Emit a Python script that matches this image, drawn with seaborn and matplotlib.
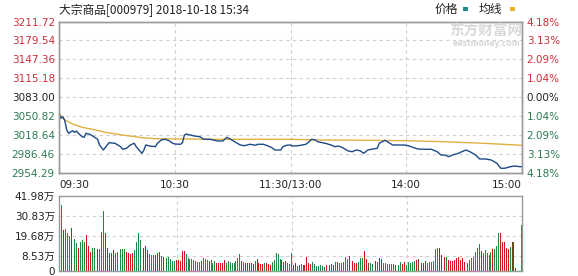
import matplotlib
matplotlib.use("Agg")
import matplotlib.pyplot as plt
import matplotlib.patches as mpatches
import seaborn as sns

# ---------------- data ----------------
title_text = "大宗商品[000979] 2018-10-18 15:34"
prev_close = 3083.00

price_minutes = [0, 1, 2, 3, 4, 5, 7, 8, 9, 10, 12, 13, 14, 16, 18, 20, 21, 23, 25, 26,
                 29, 32, 33, 35, 37, 39, 40, 43, 44, 45, 47, 50, 51, 53, 55, 57, 59, 60, 63, 64,
                 65, 66, 68, 70, 73, 75, 78, 80, 82, 85, 87, 89, 91, 94, 96, 99, 102, 103, 106, 108,
                 110, 112, 115, 116, 118, 120, 121, 124, 128, 129, 131, 133, 134, 138, 141, 143, 145, 147, 150, 152,
                 154, 156, 158, 160, 162, 165, 166, 169, 171, 173, 179, 181, 184, 186, 190, 193, 196, 198, 200, 202,
                 204, 207, 210, 211, 213, 216, 218, 221, 224, 227, 229, 231, 234, 236, 239, 240]
price_values = [3056.0, 3047.6, 3050.3, 3043.5, 3027.7, 3022.1, 3026.5, 3023.8, 3026.0, 3022.1,
                3016.4, 3015.3, 3022.1, 3020.4, 3016.4, 3012.0, 3002.3, 2993.8, 3002.3, 3006.2,
                3005.2, 2999.4, 2995.0, 2996.7, 3002.3, 3005.2, 2999.4, 2988.2, 2993.8, 3002.3,
                3000.6, 2999.4, 3005.2, 3010.8, 3012.0, 3009.6, 3005.2, 3004.0, 3003.5, 3006.2,
                3019.2, 3020.9, 3019.2, 3017.6, 3016.4, 3012.0, 3012.0, 3010.8, 3009.1, 3009.1,
                3015.3, 3012.0, 3007.9, 3002.3, 3001.1, 3003.5, 3001.8, 3003.5, 3003.5, 3001.1,
                2998.4, 2993.8, 2993.8, 2999.4, 3001.8, 3002.3, 3000.6, 3001.1, 3003.5, 3006.2,
                3012.0, 3010.8, 3007.9, 3005.2, 3002.3, 2999.4, 3000.6, 2997.7, 2992.1, 2990.9,
                2993.8, 2992.6, 2988.2, 2993.8, 2995.0, 2996.7, 3005.2, 3010.3, 3006.2, 3002.3,
                3002.3, 3001.1, 2997.7, 2995.5, 2995.0, 2995.0, 2990.9, 2985.3, 2985.3, 2982.5,
                2985.3, 2988.2, 2992.6, 2993.8, 2990.9, 2985.3, 2978.6, 2978.6, 2976.9, 2971.3,
                2962.8, 2962.8, 2965.5, 2966.7, 2965.5, 2965.5]

avg_minutes = [0, 3, 7, 12, 19, 24, 33, 43, 50, 60, 68, 78, 120, 134, 160, 179, 199, 220, 240]
avg_values = [3056.0, 3044.7, 3037.9, 3032.3, 3027.7, 3023.8, 3019.2, 3014.7, 3013.0, 3012.5,
              3012.5, 3012.0, 3012.0, 3010.8, 3010.3, 3009.6, 3007.9, 3005.2, 3001.8]

# volume in 万 (10k), one bar per minute
volume = [36.94, 22.95, 23.51, 21.46, 19.78, 24.26, 24.26, 17.91, 15.86, 12.69,
          16.42, 17.35, 16.23, 20.15, 14.18, 10.82, 13.06, 12.69, 12.31, 12.50,
          12.31, 21.64, 33.77, 21.08, 13.06, 9.89, 9.89, 11.75, 9.89, 10.82,
          12.69, 12.31, 12.31, 12.31, 10.82, 9.89, 9.52, 10.26, 11.75, 16.05,
          21.08, 17.35, 13.06, 13.06, 14.18, 11.75, 9.52, 8.96, 8.96, 8.96,
          9.89, 10.45, 8.40, 8.02, 7.65, 7.09, 7.65, 6.53, 5.78, 5.60,
          6.16, 6.16, 5.78, 11.19, 11.19, 9.33, 7.09, 6.90, 6.53, 6.16,
          5.60, 5.22, 4.85, 5.60, 7.09, 6.53, 6.16, 5.60, 6.16, 4.66,
          5.60, 4.66, 4.29, 4.29, 4.66, 6.16, 4.66, 5.60, 5.22, 4.48,
          4.29, 5.60, 7.09, 9.33, 5.78, 5.22, 4.66, 4.66, 4.29, 4.29,
          3.92, 5.60, 6.53, 4.29, 4.10, 3.92, 4.29, 4.66, 3.92, 3.36,
          5.22, 6.16, 9.89, 9.52, 6.53, 6.16, 5.22, 5.78, 4.66, 3.92,
          9.89, 3.36, 4.29, 2.80, 3.36, 3.92, 3.36, 3.36, 8.02, 4.29,
          3.92, 5.22, 3.92, 2.80, 2.99, 3.17, 2.80, 2.43, 3.36, 3.92,
          3.55, 3.92, 3.36, 5.22, 4.85, 4.29, 4.29, 5.22, 8.02, 6.72,
          8.58, 5.22, 5.60, 4.66, 4.29, 4.85, 7.46, 7.46, 11.19, 6.72,
          4.66, 4.66, 3.92, 6.72, 5.78, 5.22, 7.09, 6.72, 4.66, 4.29,
          3.92, 4.10, 3.92, 3.92, 3.36, 3.36, 3.36, 5.22, 3.92, 4.85,
          3.36, 5.22, 4.66, 5.22, 5.41, 6.16, 6.72, 5.60, 4.29, 4.66,
          5.60, 4.66, 5.22, 5.22, 5.60, 12.13, 12.69, 13.06, 8.96, 7.09,
          8.02, 8.02, 6.16, 5.60, 5.60, 6.16, 7.09, 8.02, 6.16, 7.09,
          5.22, 4.66, 4.29, 6.16, 7.09, 8.02, 10.82, 12.69, 15.11, 11.19,
          9.89, 11.75, 10.26, 8.96, 10.82, 12.13, 12.13, 13.99, 21.46, 21.08,
          16.42, 16.42, 13.06, 12.13, 13.62, 16.05, 16.05, 1.49, 0.0, 0.0,
          25.75]
# r = up (red), g = down (green), b = flat (brown)
volume_dir = list(
    "grgggrrggr" "gggrrrgggr" "gggrrrrrgg" "ggggrrrrgg" "ggrrrrgggr"
    "rrgrgggggg" "rrrrrggggg" "gggrgggrgg" "grrrrrgggg" "ggggrgrrrr"
    "rgrrrrgrrr" "gggggrrrgg" "grrgbgrrrr" "rgggggggrr" "rrrgrggggg"
    "rrrrrgggrr" "bggrrgrrgg" "ggggrgggrr" "gggggrbgrr" "rggggggrrg"
    "rgrrrrrrrr" "rrgggggggr" "gggggrgggr" "rrrrgbbrrr" "g")

price_ticks = [3211.72, 3179.54, 3147.36, 3115.18, 3083.00, 3050.82, 3018.64, 2986.46, 2954.29]
pct_labels = ["4.18%", "3.13%", "2.09%", "1.04%", "0.00%", "1.04%", "2.09%", "3.13%", "4.18%"]
time_ticks = [0, 60, 120, 180, 240]
time_labels = ["09:30", "10:30", "11:30/13:00", "14:00", "15:00"]
vol_ticks = [41.98, 30.83, 19.68, 8.53, 0]
vol_labels = ["41.98万", "30.83万", "19.68万", "8.53万", "0"]
legend_labels = ["价格", "均线"]

# ---------------- style ----------------
sns.set_theme(style="white")
plt.rcParams["font.family"] = ["DejaVu Sans", "Noto Sans CJK SC"]
plt.rcParams["axes.unicode_minus"] = False

RED_TXT = "#cf2f3a"
GREEN_TXT = "#2e7b52"
BLACK_TXT = "#222222"
GRID = "#cfcfcf"
SPINE = "#9a9a9a"
LINE_PRICE = "#1d4a87"
LINE_AVG = "#e0b040"
vol_palette = {"r": "#d8101f", "g": "#1a8c45", "b": "#6b4a1e"}

W, H = 578, 276
fig = plt.figure(figsize=(W / 100, H / 100), dpi=100)
fig.patch.set_facecolor("white")

ax = fig.add_axes([59 / W, 1 - 173.3 / H, 463 / W, (173.3 - 21.5) / H])
axv = fig.add_axes([59 / W, 1 - 271 / H, 463 / W, 75 / H])

# ---------------- price panel ----------------
sns.lineplot(x=avg_minutes, y=avg_values, color=LINE_AVG, lw=1.0, ax=ax, estimator=None)
sns.lineplot(x=price_minutes, y=price_values, color=LINE_PRICE, lw=1.0, ax=ax, estimator=None)
ax.set_xlim(0, 240)
ax.set_ylim(price_ticks[-1], price_ticks[0])
ax.set_yticks(price_ticks)
ax.set_yticklabels([f"{t:.2f}" for t in price_ticks])
ax.set_xticks(time_ticks)
ax.set_xticklabels(time_labels)
ax.grid(True, color=GRID, ls=(0, (3, 3)), lw=0.8)
ax.tick_params(axis="both", length=0, labelsize=7.5, colors=BLACK_TXT)
ax.tick_params(axis="x", pad=5)
ax.tick_params(axis="y", pad=3)
for lab, t in zip(ax.get_yticklabels(), price_ticks):
    lab.set_color(RED_TXT if t > prev_close + 0.001 else (GREEN_TXT if t < prev_close - 0.001 else BLACK_TXT))
xl = ax.get_xticklabels()
xl[0].set_ha("left")
xl[-1].set_ha("right")
ax.set_xlabel("")
ax.set_ylabel("")
for s in ax.spines.values():
    s.set_color(SPINE)
    s.set_linewidth(1.0)

axr = ax.twinx()
axr.set_ylim(price_ticks[-1], price_ticks[0])
axr.set_yticks(price_ticks)
axr.set_yticklabels(pct_labels)
axr.tick_params(axis="y", length=0, labelsize=7.5, pad=3.4)
for lab, t in zip(axr.get_yticklabels(), price_ticks):
    lab.set_color(RED_TXT if t > prev_close + 0.001 else (GREEN_TXT if t < prev_close - 0.001 else BLACK_TXT))
for s in axr.spines.values():
    s.set_color(SPINE)
    s.set_linewidth(1.0)

# ---------------- volume panel ----------------
bar_idx = list(range(len(volume)))
sns.barplot(x=bar_idx, y=volume, hue=volume_dir[:len(volume)], palette=vol_palette,
            native_scale=True, dodge=False, errorbar=None, legend=False,
            width=0.5, saturation=1, linewidth=0, edgecolor="none", antialiased=False, ax=axv)
axv.set_xlim(-1.3, 240.2)
axv.set_ylim(0, vol_ticks[0])
axv.set_yticks(vol_ticks)
axv.set_yticklabels(vol_labels)
axv.set_xticks([60, 120, 180])
axv.set_xticklabels([])
axv.grid(True, color=GRID, ls=(0, (3, 3)), lw=0.8)
axv.set_axisbelow(True)
axv.tick_params(axis="both", length=0, labelsize=7.5, colors=BLACK_TXT, pad=3)
axv.set_xlabel("")
axv.set_ylabel("")
for s in axv.spines.values():
    s.set_color(SPINE)
    s.set_linewidth(1.0)

# ---------------- texts ----------------
fig.text(59 / W, 1 - 10 / H, title_text, fontsize=8.5, color=BLACK_TXT, va="center", ha="left",
         family=["Noto Sans CJK SC", "DejaVu Sans"])

# watermark
fig.text(486 / W, 1 - 31 / H, "东方财富网", fontsize=10.5, color="#d9d9d9", weight="bold",
         va="center", ha="center", family=["Noto Sans CJK SC", "DejaVu Sans"], zorder=0)
fig.text(486 / W, 1 - 43 / H, "eastmoney.com", fontsize=5.5, color="#d9d9d9", weight="bold",
         va="center", ha="center", zorder=0)

# legend
fig.text(435 / W, 1 - 9 / H, legend_labels[0], fontsize=8.5, color=BLACK_TXT, va="center", ha="left",
         family=["Noto Sans CJK SC", "DejaVu Sans"])
fig.add_artist(mpatches.Rectangle((463 / W, 1 - 10.5 / H), 5 / W, 3 / H, transform=fig.transFigure,
                                  color="#1f8a8a", lw=0))
fig.text(479 / W, 1 - 9 / H, legend_labels[1], fontsize=8.5, color=BLACK_TXT, va="center", ha="left",
         family=["Noto Sans CJK SC", "DejaVu Sans"])
fig.add_artist(mpatches.Rectangle((510 / W, 1 - 10.5 / H), 5 / W, 3 / H, transform=fig.transFigure,
                                  color="#e6b422", lw=0))

fig.savefig("out.png", dpi=100, facecolor="white")
